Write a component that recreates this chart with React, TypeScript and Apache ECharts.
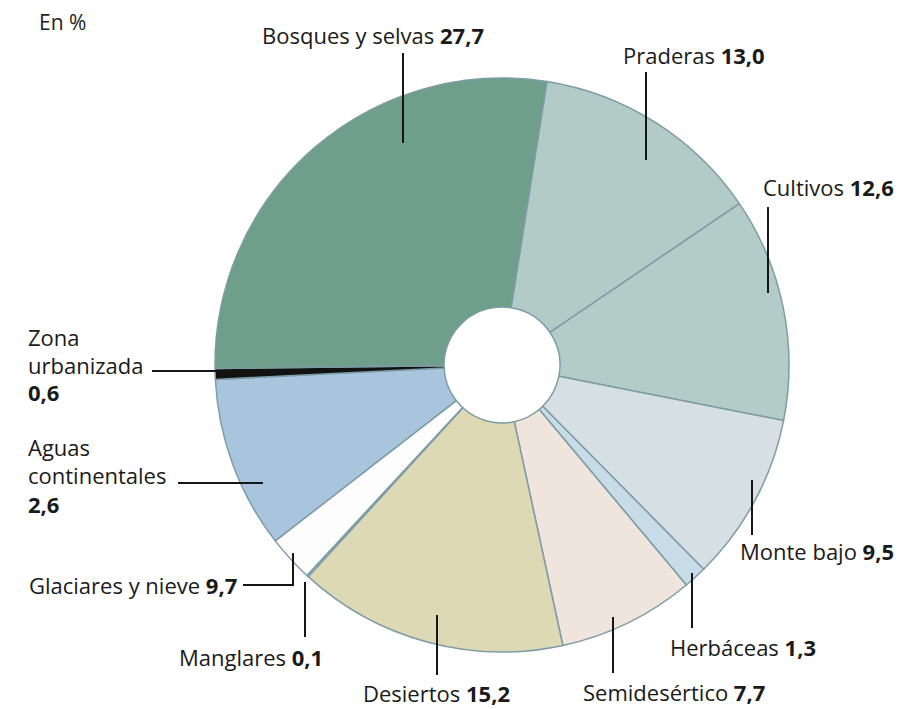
import React, { useEffect, useRef } from 'react';
import * as echarts from 'echarts';

// Land cover categories, clockwise from the top (Praderas first)
const categories = [
  'Praderas',
  'Cultivos',
  'Monte bajo',
  'Herbáceas',
  'Semidesértico',
  'Desiertos',
  'Manglares',
  'Glaciares y nieve',
  'Aguas continentales',
  'Zona urbanizada',
  'Bosques y selvas',
];

// Slice sizes as drawn in the picture (%)
const sliceValues = [13.0, 12.6, 9.5, 1.3, 7.7, 15.2, 0.1, 2.6, 9.7, 0.6, 27.7];

// Values as printed in the labels
const printedValues = ['13,0', '12,6', '9,5', '1,3', '7,7', '15,2', '0,1', '9,7', '2,6', '0,6', '27,7'];

const sliceColors = [
  '#b2cbc6',
  '#b3ccc7',
  '#d6e0e2',
  '#c8dce8',
  '#efe5dc',
  '#ddd9b5',
  '#cfe2ee',
  '#fdfdfd',
  '#a9c5dd',
  '#121212',
  '#6f9e8a',
];

const unitLabel = 'En %';

// ---- layout of the annotations (positions only) ----
const FONT = '"Open Sans", "Noto Sans", sans-serif';
const FS = 22;
const CENTRAL = 8.5; // distance from alphabetic baseline to central baseline

type LineSpec = 'full' | 'name' | 'value' | string;
interface LabelLayout {
  idx: number;
  x: number;
  lines: LineSpec[];
  baselines: number[];
  leader: number[][];
}

const labelLayout: LabelLayout[] = [
  { idx: 10, x: 262, lines: ['full'], baselines: [43], leader: [[403, 53], [403, 143]] },
  { idx: 0, x: 623, lines: ['full'], baselines: [63], leader: [[646, 72], [646, 160]] },
  { idx: 1, x: 763, lines: ['full'], baselines: [195], leader: [[768, 207], [768, 293]] },
  { idx: 2, x: 740, lines: ['full'], baselines: [559], leader: [[752, 480], [752, 535]] },
  { idx: 3, x: 670, lines: ['full'], baselines: [655], leader: [[692, 573], [692, 628]] },
  { idx: 4, x: 583, lines: ['full'], baselines: [700], leader: [[613, 617], [613, 673]] },
  { idx: 5, x: 363, lines: ['full'], baselines: [701], leader: [[437, 615], [437, 675]] },
  { idx: 6, x: 179, lines: ['full'], baselines: [665], leader: [[305, 582], [305, 637]] },
  { idx: 7, x: 29, lines: ['full'], baselines: [593], leader: [[243, 585], [293, 585], [293, 553]] },
  { idx: 8, x: 28, lines: ['Aguas', 'continentales', 'value'], baselines: [455, 483, 512], leader: [[178, 483], [263, 483]] },
  { idx: 9, x: 28, lines: ['Zona', 'urbanizada', 'value'], baselines: [345, 373, 400], leader: [[152, 371], [216, 371]] },
];

function buildGraphics() {
  const els: any[] = [];
  els.push({
    type: 'text',
    x: 39,
    y: 30 - CENTRAL,
    silent: true,
    style: {
      text: unitLabel,
      font: `500 ${FS - 1}px ${FONT}`,
      fill: '#222',
      verticalAlign: 'middle',
      align: 'left',
    },
  });
  labelLayout.forEach((l) => {
    const name = categories[l.idx];
    const val = printedValues[l.idx];
    l.lines.forEach((spec, k) => {
      let text: string;
      if (spec === 'full') text = `{n|${name} }{v|${val}}`;
      else if (spec === 'value') text = `{v|${val}}`;
      else if (spec === 'name') text = `{n|${name}}`;
      else text = `{n|${spec}}`;
      els.push({
        type: 'text',
        x: l.x,
        y: l.baselines[k] - CENTRAL,
        silent: true,
        style: {
          text,
          verticalAlign: 'middle',
          align: 'left',
          fill: '#1a1a1a',
          rich: {
            n: { fontFamily: FONT, fontSize: FS, fontWeight: 500, fill: '#1a1a1a' },
            v: { fontFamily: FONT, fontSize: FS, fontWeight: 'bold', fill: '#1a1a1a' },
          },
        },
      });
    });
    els.push({
      type: 'polyline',
      silent: true,
      shape: { points: l.leader },
      style: { stroke: '#161616', lineWidth: 2, fill: 'none' },
      z: 10,
    });
  });
  return els;
}

export default function App() {
  const ref = useRef<HTMLDivElement>(null);
  useEffect(() => {
    if (!ref.current) return;
    const chart = echarts.init(ref.current, undefined, { renderer: 'svg' });
    chart.setOption({
      animation: false,
      backgroundColor: '#ffffff',
      series: [
        {
          type: 'pie',
          center: [502, 365],
          radius: [58, 287],
          startAngle: 81,
          clockwise: true,
          silent: true,
          avoidLabelOverlap: false,
          label: { show: false },
          labelLine: { show: false },
          emphasis: { disabled: true },
          itemStyle: { borderColor: '#7d9ca6', borderWidth: 1.5 },
          data: categories.map((c, i) => ({
            name: c,
            value: sliceValues[i],
            itemStyle: { color: sliceColors[i] },
          })),
        },
      ],
      graphic: buildGraphics(),
    });
    return () => chart.dispose();
  }, []);
  return (
    <div
      ref={ref}
      style={{ position: 'fixed', left: 0, top: 0, width: 900, height: 709, background: '#fff' }}
    />
  );
}
